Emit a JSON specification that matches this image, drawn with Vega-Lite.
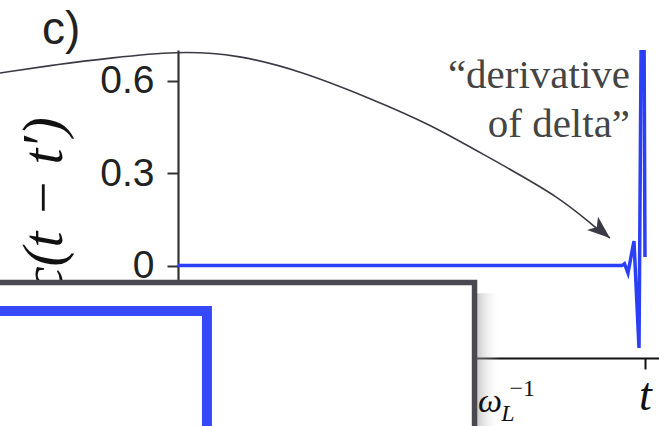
{
  "$schema": "https://vega.github.io/schema/vega-lite/v6.json",
  "autosize": {"type": "none"},
  "padding": {"left": 178, "top": 50, "right": 0, "bottom": 68},
  "width": 481,
  "height": 308,
  "background": "white",
  "config": {"view": {"stroke": null}},
  "datasets": {
    "kernel": [
      {"t": 0.0, "c": 0.0},
      {"t": 0.9507, "c": 0.0},
      {"t": 0.9561, "c": 0.006},
      {"t": 0.9636, "c": -0.024},
      {"t": 0.9764, "c": 0.08},
      {"t": 0.9872, "c": -0.2675},
      {"t": 0.9957, "c": 1.6},
      {"t": 1.0, "c": 0.028}
    ],
    "arrow": [
      {"t": -0.3812, "c": 0.6253},
      {"t": -0.2527, "c": 0.6545},
      {"t": -0.1456, "c": 0.674},
      {"t": -0.0021, "c": 0.6968},
      {"t": 0.1263, "c": 0.686},
      {"t": 0.2677, "c": 0.6295},
      {"t": 0.4111, "c": 0.5432},
      {"t": 0.5396, "c": 0.4597},
      {"t": 0.6745, "c": 0.3429},
      {"t": 0.818, "c": 0.2227},
      {"t": 0.8994, "c": 0.1156},
      {"t": 0.925, "c": 0.0896}
    ],
    "inset": [
      {"i": 0, "t": -0.6, "c": -0.147},
      {"i": 1, "t": 0.062, "c": -0.147},
      {"i": 2, "t": 0.062, "c": -0.7}
    ],
    "one": [{}]
  },
  "layer": [
    {
      "data": {"name": "kernel"},
      "mark": {"type": "line", "color": "#2b3ff6", "strokeWidth": 3.5, "clip": true},
      "encoding": {
        "x": {
          "field": "t", "type": "quantitative",
          "scale": {"domain": [0, 1.03], "nice": false, "zero": false},
          "axis": {
            "values": [1], "labelExpr": "'t'", "title": null, "grid": false,
            "domainColor": "#111", "domainWidth": 2, "tickColor": "#111", "tickWidth": 2, "tickSize": 11,
            "labelFont": "Liberation Serif", "labelFontStyle": "italic", "labelFontSize": 46,
            "labelColor": "#111", "labelPadding": 4
          }
        },
        "y": {
          "field": "c", "type": "quantitative",
          "scale": {"domain": [-0.3, 0.7], "nice": false, "zero": false},
          "axis": {
            "values": [0, 0.3, 0.6],
            "labelExpr": "datum.value == 0 ? '0' : format(datum.value, '.1f')",
            "title": "c(t − t′)", "titleFont": "Liberation Serif", "titleFontStyle": "italic",
            "titleFontWeight": "normal", "titleFontSize": 57, "titleColor": "#111", "titlePadding": 26,
            "grid": false, "domainColor": "#333", "domainWidth": 2.2, "tickColor": "#333",
            "tickWidth": 2, "tickSize": 11, "labelFont": "Liberation Sans", "labelFontSize": 39,
            "labelColor": "#222", "labelPadding": 13
          }
        },
        "order": {"field": "t", "type": "quantitative"}
      }
    },
    {
      "data": {"name": "arrow"},
      "mark": {"type": "line", "color": "#3a3a44", "strokeWidth": 1.6, "interpolate": "basis", "clip": false},
      "encoding": {
        "x": {"field": "t", "type": "quantitative"},
        "y": {"field": "c", "type": "quantitative"}
      }
    },
    {
      "data": {"name": "one"},
      "mark": {
        "type": "point", "shape": "M0,0 L-2,-0.75 L-1.5,0 L-2,0.75 Z", "filled": true,
        "color": "#3a3a44", "opacity": 1, "size": 520, "angle": 40, "clip": false
      },
      "encoding": {"x": {"datum": 0.925}, "y": {"datum": 0.0896}}
    },
    {
      "data": {"name": "one"},
      "mark": {
        "type": "text", "text": "“derivative\nof delta”", "lineBreak": "\n", "lineHeight": 49,
        "align": "right", "baseline": "alphabetic", "font": "Liberation Serif", "fontSize": 41,
        "color": "#454545", "clip": false
      },
      "encoding": {"x": {"datum": 0.968}, "y": {"datum": 0.577}}
    },
    {
      "data": {"name": "one"},
      "mark": {
        "type": "text", "text": "c)", "align": "left", "baseline": "alphabetic",
        "font": "Liberation Sans", "fontSize": 46, "color": "#222", "clip": false
      },
      "encoding": {"x": {"datum": -0.291}, "y": {"datum": 0.72}}
    },
    {
      "data": {"name": "one"},
      "mark": {
        "type": "rect", "clip": false,
        "fill": {
          "gradient": "linear", "x1": 0, "y1": 0, "x2": 1, "y2": 0,
          "stops": [
            {"offset": 0, "color": "rgba(150,150,150,0.55)"},
            {"offset": 1, "color": "rgba(255,255,255,0)"}
          ]
        }
      },
      "encoding": {
        "x": {"datum": 0.638}, "x2": {"datum": 0.69},
        "y": {"datum": -0.09}, "y2": {"datum": -0.7}
      }
    },
    {
      "data": {"name": "one"},
      "mark": {"type": "rect", "fill": "white", "stroke": "#4a4850", "strokeWidth": 5.5, "clip": false},
      "encoding": {
        "x": {"datum": -0.6}, "x2": {"datum": 0.635},
        "y": {"datum": -0.055}, "y2": {"datum": -0.7}
      }
    },
    {
      "data": {"name": "inset"},
      "mark": {"type": "line", "color": "#2b3ff6", "strokeWidth": 10, "clip": false, "opacity": 0.95},
      "encoding": {
        "x": {"field": "t", "type": "quantitative"},
        "y": {"field": "c", "type": "quantitative"},
        "order": {"field": "i", "type": "quantitative"}
      }
    },
    {
      "data": {"name": "one"},
      "mark": {
        "type": "text", "text": "ω", "align": "left", "baseline": "alphabetic",
        "font": "Liberation Serif", "fontStyle": "italic", "fontSize": 34, "color": "#111", "clip": false
      },
      "encoding": {"x": {"datum": 0.6424}, "y": {"datum": -0.4753}}
    },
    {
      "data": {"name": "one"},
      "mark": {
        "type": "text", "text": "L", "align": "left", "baseline": "alphabetic",
        "font": "Liberation Serif", "fontStyle": "italic", "fontSize": 24, "color": "#111", "clip": false
      },
      "encoding": {"x": {"datum": 0.692}, "y": {"datum": -0.5045}}
    },
    {
      "data": {"name": "one"},
      "mark": {
        "type": "text", "text": "−1", "align": "left", "baseline": "alphabetic",
        "font": "Liberation Serif", "fontSize": 24, "color": "#111", "clip": false
      },
      "encoding": {"x": {"datum": 0.71}, "y": {"datum": -0.4236}}
    }
  ]
}
